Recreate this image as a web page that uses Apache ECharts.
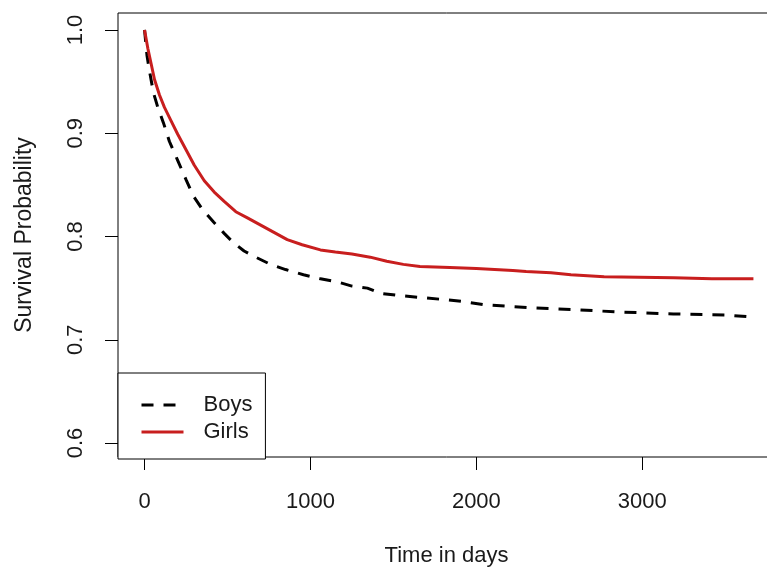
<!DOCTYPE html>
<html>
<head>
<meta charset="utf-8">
<script src="https://cdn.jsdelivr.net/npm/echarts@6/dist/echarts.min.js"></script>
<style>
  html, body { margin: 0; padding: 0; overflow: hidden; background: #fff; }
  #chart { width: 776px; height: 572px; }
</style>
</head>
<body>
<div id="chart"></div>
<script>
// survival curves (days, probability)
const boysDays = [0, 15, 30, 54, 80, 114, 150, 199, 250, 295, 350, 416, 480, 536, 600, 657, 759, 850, 958, 1060, 1163, 1250, 1343, 1422, 1524, 1663, 1800, 1922, 2042, 2325, 2620, 2843, 3187, 3506, 3663];
const boysSurv = [1.0, 0.975, 0.96, 0.939, 0.925, 0.91, 0.892, 0.874, 0.855, 0.839, 0.826, 0.814, 0.803, 0.794, 0.786, 0.781, 0.773, 0.768, 0.763, 0.759, 0.756, 0.752, 0.75, 0.745, 0.743, 0.741, 0.739, 0.737, 0.734, 0.731, 0.729, 0.727, 0.725, 0.724, 0.722];

const girlsDays = [0, 20, 40, 60, 90, 120, 160, 200, 250, 300, 360, 420, 480, 550, 620, 700, 780, 860, 950, 1060, 1150, 1250, 1360, 1460, 1560, 1660, 1840, 2000, 2220, 2300, 2450, 2570, 2770, 3190, 3420, 3670];
const girlsSurv = [1.0, 0.982, 0.967, 0.952, 0.937, 0.925, 0.912, 0.899, 0.884, 0.869, 0.854, 0.843, 0.834, 0.824, 0.818, 0.811, 0.804, 0.797, 0.792, 0.787, 0.785, 0.783, 0.78, 0.776, 0.773, 0.771, 0.77, 0.769, 0.767, 0.766, 0.765, 0.763, 0.761, 0.76, 0.759, 0.759];

const xTicks = [0, 1000, 2000, 3000];
const yTicks = [0.6, 0.7, 0.8, 0.9, 1.0];

const font = "'Liberation Sans', Arial, sans-serif";
const textColor = "#1a1a1a";

function pairs(xs, ys) {
  return xs.map((x, i) => [x, ys[i]]);
}

let option = {
  backgroundColor: "#fff",
  animation: false,
  grid: {
    left: 118,
    top: 13,
    right: 1,
    bottom: 113,
    show: true,
    borderColor: "#000",
    borderWidth: 1,
  },
  legend: {
    orient: "vertical",
    left: 118,
    top: 373,
    padding: [21, 13, 16, 22],
    itemGap: 5,
    itemWidth: 42,
    itemHeight: 14,
    borderColor: "#000",
    borderWidth: 1,
    backgroundColor: "#fff",
    itemStyle: { opacity: 0 },
    textStyle: {
      fontFamily: font,
      fontSize: 22,
      color: textColor,
      padding: [0, 0, 0, 15],
    },
    lineStyle: { width: 3 },
    data: ["Boys", "Girls"],
  },
  xAxis: {
    type: "value",
    min: -160,
    max: 3800,
    name: "Time in days",
    nameLocation: "middle",
    nameGap: 88,
    nameTextStyle: { fontFamily: font, fontSize: 22, color: textColor },
    axisLine: { show: false, onZero: false },
    splitLine: { show: false },
    axisTick: {
      show: true,
      length: 13,
      customValues: xTicks,
      lineStyle: { color: "#000", width: 1 },
    },
    axisLabel: {
      customValues: xTicks,
      margin: 34,
      fontFamily: font,
      fontSize: 22,
      color: textColor,
      formatter: (v) => String(v),
    },
  },
  yAxis: {
    type: "value",
    min: 0.5865,
    max: 1.0164,
    name: "Survival Probability",
    nameLocation: "middle",
    nameGap: 82,
    nameTextStyle: { fontFamily: font, fontSize: 23, color: textColor },
    axisLine: { show: false, onZero: false },
    splitLine: { show: false },
    axisTick: {
      show: true,
      length: 13,
      customValues: yTicks,
      lineStyle: { color: "#000", width: 1 },
    },
    axisLabel: {
      customValues: yTicks,
      rotate: 90,
      margin: 31,
      fontFamily: font,
      fontSize: 22,
      color: textColor,
      formatter: (v) => v.toFixed(1),
    },
  },
  series: [
    {
      name: "Boys",
      type: "line",
      symbol: "none",
      data: pairs(boysDays, boysSurv),
      lineStyle: { color: "#000", width: 3, type: [12, 10] },
      itemStyle: { color: "#000" },
    },
    {
      name: "Girls",
      type: "line",
      symbol: "none",
      data: pairs(girlsDays, girlsSurv),
      lineStyle: { color: "#c81e1e", width: 3 },
      itemStyle: { color: "#c81e1e" },
    },
  ],
};

const myChart = echarts.init(document.getElementById("chart"));
myChart.setOption(option);
</script>
</body>
</html>
